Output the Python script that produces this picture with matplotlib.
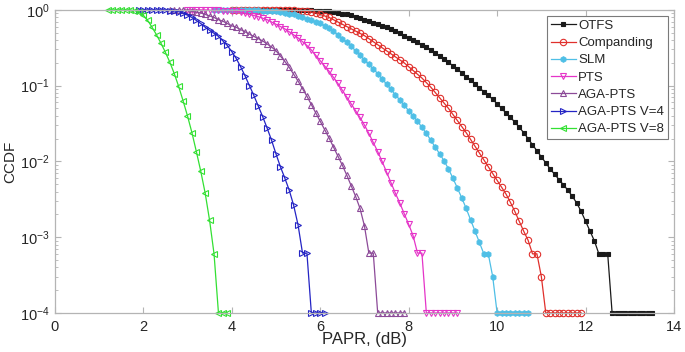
import numpy as np
import matplotlib
matplotlib.use("Agg")
import matplotlib.pyplot as plt
from matplotlib.ticker import LogLocator, NullFormatter

plt.rcParams['font.family'] = ['Liberation Sans', 'DejaVu Sans']
plt.rcParams['mathtext.fontset'] = 'custom'
plt.rcParams['mathtext.rm'] = 'Liberation Sans'
plt.rcParams['mathtext.it'] = 'Liberation Sans:italic'

STEP = 0.1  # PAPR sampling step, dB

# log10(CCDF), one value per 0.1 dB; -4 = floor (10^-4)
otfs_start = 4.5
otfs_log = [0, 0, 0, 0, 0, 0, 0, 0, 0, 0, 0, -0.005, -0.005, -0.005, -0.01,
            -0.01, -0.015, -0.02, -0.03, -0.04, -0.05, -0.06, -0.07, -0.09, -0.11,
            -0.13, -0.15, -0.17, -0.19, -0.21, -0.23, -0.25, -0.28, -0.31, -0.34,
            -0.37, -0.40, -0.43, -0.46, -0.49, -0.53, -0.57, -0.61, -0.65, -0.69,
            -0.74, -0.78, -0.83, -0.88, -0.93, -0.98, -1.03, -1.08, -1.13, -1.18,
            -1.24, -1.30, -1.36, -1.42, -1.48, -1.55, -1.62, -1.70, -1.78, -1.86,
            -1.94, -2.02, -2.10, -2.17, -2.24, -2.31, -2.38, -2.46, -2.55, -2.66,
            -2.79, -2.92, -3.05, -3.22, -3.22, -3.22,
            -4, -4, -4, -4, -4, -4, -4, -4, -4, -4]

comp_start = 4.0
comp_log = [0, 0, 0, 0, 0, 0, 0, 0, 0, 0, 0, 0, 0, 0, -0.005,
            -0.01, -0.015, -0.02, -0.03, -0.04, -0.06, -0.08, -0.10, -0.13, -0.16,
            -0.19, -0.22, -0.25, -0.28, -0.31, -0.34, -0.38, -0.42, -0.46, -0.50,
            -0.54, -0.58, -0.62, -0.66, -0.70, -0.75, -0.80, -0.85, -0.90, -0.96,
            -1.02, -1.09, -1.16, -1.23, -1.30, -1.38, -1.46, -1.54, -1.62, -1.71,
            -1.80, -1.89, -1.98, -2.07, -2.16, -2.25, -2.34, -2.43, -2.54, -2.66,
            -2.79, -2.92, -3.04, -3.22, -3.22, -3.52,
            -4, -4, -4, -4, -4, -4, -4, -4, -4]

slm_start = 3.6
slm_log = [0, 0, 0, 0, 0, 0, 0, 0, 0, -0.005, -0.005, -0.01, -0.01, -0.015,
           -0.02, -0.03, -0.04, -0.05, -0.06, -0.08, -0.10, -0.12, -0.14, -0.16,
           -0.18, -0.21, -0.24, -0.28, -0.33, -0.38, -0.43, -0.48, -0.54, -0.60,
           -0.66, -0.72, -0.78, -0.84, -0.91, -0.98, -1.05, -1.12, -1.19, -1.26,
           -1.33, -1.40, -1.47, -1.55, -1.63, -1.72, -1.81, -1.90, -1.99, -2.10,
           -2.22, -2.35, -2.48, -2.62, -2.77, -2.92, -3.07, -3.22, -3.22, -3.52,
           -4, -4, -4, -4, -4, -4, -4, -4]

pts_start = 3.0
pts_log = [0, 0, 0, 0, 0, -0.005, -0.005, -0.005, -0.01, -0.01,
           -0.01, -0.02, -0.03, -0.045, -0.06, -0.075, -0.09, -0.11, -0.13, -0.16,
           -0.19, -0.22, -0.25, -0.29, -0.33, -0.37, -0.42, -0.47, -0.53, -0.60,
           -0.67, -0.74, -0.81, -0.89, -0.97, -1.06, -1.15, -1.24, -1.33, -1.42,
           -1.52, -1.63, -1.75, -1.87, -2.00, -2.14, -2.28, -2.42, -2.55, -2.69,
           -2.83, -2.98, -3.21, -3.21,
           -4, -4, -4, -4, -4, -4, -4, -4]

aga_start = 2.6
aga_log = [0, 0, -0.005, -0.005,
           -0.01, -0.02, -0.03, -0.04, -0.06, -0.08, -0.10, -0.13, -0.15, -0.18,
           -0.21, -0.23, -0.26, -0.29, -0.32, -0.35, -0.38, -0.41, -0.45, -0.49,
           -0.54, -0.61, -0.68, -0.76, -0.85, -0.94, -1.04, -1.14, -1.25, -1.36,
           -1.47, -1.58, -1.69, -1.81, -1.93, -2.05, -2.18, -2.32, -2.46, -2.62,
           -2.85, -3.21, -3.21,
           -4, -4, -4, -4, -4, -4, -4]

v4_start = 1.9
v4_log = [0, 0, 0, 0, 0, 0, 0, -0.01, -0.015, -0.025, -0.045,
          -0.07, -0.10, -0.14, -0.18, -0.23, -0.27, -0.31, -0.35, -0.41, -0.47,
          -0.55, -0.64, -0.75, -0.87, -1.00, -1.13, -1.27, -1.41, -1.56, -1.72,
          -1.90, -2.07, -2.22, -2.38, -2.58, -2.84, -3.21, -3.21,
          -4, -4, -4, -4]

v8_start = 1.2
v8_log = [0, 0, 0, 0, 0, 0, -0.01, -0.03,
          -0.07, -0.14, -0.23, -0.33, -0.44, -0.56, -0.69, -0.84, -1.01, -1.20,
          -1.40, -1.62, -1.87, -2.13, -2.42, -2.78, -3.22,
          -4, -4, -4]

series = [
    ("OTFS", otfs_start, otfs_log, "#1a1a1a", "s", 2.6, "#1a1a1a"),
    ("Companding", comp_start, comp_log, "#e0302c", "o", 4.6, "none"),
    ("SLM", slm_start, slm_log, "#4fbfe6", "h", 4.0, "#4fbfe6"),
    ("PTS", pts_start, pts_log, "#e535c8", "v", 4.8, "none"),
    ("AGA-PTS", aga_start, aga_log, "#8c4a98", "^", 4.8, "none"),
    ("AGA-PTS V=4", v4_start, v4_log, "#2424c4", ">", 4.8, "none"),
    ("AGA-PTS V=8", v8_start, v8_log, "#33e033", "<", 4.8, "none"),
]

fig = plt.figure(figsize=(6.85, 3.52), dpi=100)
ax = fig.add_axes([0.080, 0.111, 0.904, 0.861])

for name, x0, logs, col, mk, ms, face in series:
    x = x0 + STEP * np.arange(len(logs))
    y = 10.0 ** np.array(logs)
    ax.semilogy(x, y, color=col, lw=0.9, marker=mk, ms=ms, mfc=face,
                mec=col, mew=0.8, label=name, clip_on=False)

ax.set_xlim(0, 14)
ax.set_ylim(1e-4, 1)
ax.set_xticks(np.arange(0, 15, 2))
ax.yaxis.set_minor_locator(LogLocator(base=10, subs=np.arange(2, 10)))
ax.yaxis.set_minor_formatter(NullFormatter())

for s in ax.spines.values():
    s.set_color("#b4b4b4")
    s.set_linewidth(0.9)
ax.tick_params(which="both", direction="in", top=True, right=True,
               color="#b4b4b4", labelcolor="#262626", labelsize=10.5)
ax.tick_params(which="major", length=4)
ax.tick_params(which="minor", length=2)
ax.tick_params(axis="x", pad=5)

ax.set_xlabel("PAPR, (dB)", fontsize=12, color="#262626")
ax.xaxis.set_label_coords(0.5, -0.062)
ax.set_ylabel("CCDF", fontsize=11, color="#262626", labelpad=2)

leg = ax.legend(loc="upper right", fontsize=9.5, handlelength=1.9,
                handletextpad=0.2, labelspacing=0.38, borderaxespad=0.45,
                borderpad=0.3, fancybox=False, framealpha=1)
leg.get_frame().set_edgecolor("#7a7a7a")
leg.get_frame().set_linewidth(0.8)
for t in leg.get_texts():
    t.set_color("#262626")

fig.savefig("out.png", dpi=100)
